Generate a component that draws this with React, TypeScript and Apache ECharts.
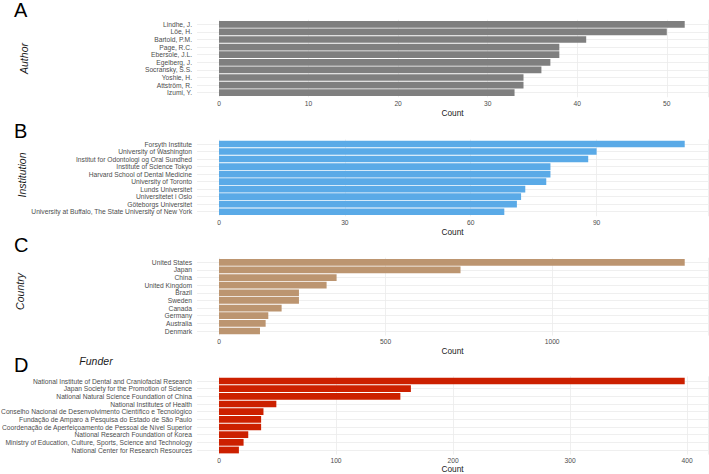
import React, { useEffect, useRef } from "react";
import * as echarts from "echarts";

const authors = ["Lindhe, J.", "Löe, H.", "Bartold, P.M.", "Page, R.C.", "Ebersole, J.L.", "Egelberg, J.", "Socransky, S.S.", "Yoshie, H.", "Attström, R.", "Izumi, Y."];
const authorCounts = [52, 50, 41, 38, 38, 37, 36, 34, 34, 33];

const institutions = ["Forsyth Institute", "University of Washington", "Institut for Odontologi og Oral Sundhed", "Institute of Science Tokyo", "Harvard School of Dental Medicine", "University of Toronto", "Lunds Universitet", "Universitetet i Oslo", "Göteborgs Universitet", "University at Buffalo, The State University of New York"];
const institutionCounts = [111, 90, 88, 79, 79, 78, 73, 72, 71, 68];

const countries = ["United States", "Japan", "China", "United Kingdom", "Brazil", "Sweden", "Canada", "Germany", "Australia", "Denmark"];
const countryCounts = [1398, 725, 353, 323, 240, 240, 188, 148, 140, 123];

const funders = ["National Institute of Dental and Craniofacial Research", "Japan Society for the Promotion of Science", "National Natural Science Foundation of China", "National Institutes of Health", "Conselho Nacional de Desenvolvimento Científico e Tecnológico", "Fundação de Amparo à Pesquisa do Estado de São Paulo", "Coordenação de Aperfeiçoamento de Pessoal de Nível Superior", "National Research Foundation of Korea", "Ministry of Education, Culture, Sports, Science and Technology", "National Center for Research Resources"];
const funderCounts = [398, 164, 155, 49, 38, 36, 36, 25, 21, 17];

const xIntervals = [10, 30, 500, 100];
const panelLetters = ["A", "B", "C", "D"];
const panelTitles = ["Author", "Institution", "Country", "Funder"];

const FONT = "'Liberation Sans', Arial, Helvetica, sans-serif";

export default function App() {
  const ref = useRef<HTMLDivElement>(null);
  useEffect(() => {
    if (!ref.current) return;
    const chart = echarts.init(ref.current, null, { renderer: "svg" });

    const panels = [
      { cats: authors, vals: authorCounts, color: "#7f7f7f", first: 24.3, last: 92.7 },
      { cats: institutions, vals: institutionCounts, color: "#5aaae7", first: 144, last: 211.7 },
      { cats: countries, vals: countryCounts, color: "#bc9570", first: 262.3, last: 331 },
      { cats: funders, vals: funderCounts, color: "#cc2000", first: 381, last: 450 },
    ];

    const grid: any[] = [];
    const xAxis: any[] = [];
    const yAxis: any[] = [];
    const series: any[] = [];

    panels.forEach((p, i) => {
      const maxV = Math.max(...p.vals) * 1.05;
      const band = (p.last - p.first) / (p.cats.length - 1);
      const left = 219;
      const right = 1;
      const iv = xIntervals[i];
      // helper grid: full panel, vertical grid lines
      grid.push({ left, right, top: p.first - 0.6 * band, height: p.last - p.first + 1.2 * band, outerBoundsMode: "none", containLabel: false });
      xAxis.push({
        type: "value", gridIndex: 2 * i, min: 0, max: maxV, interval: iv,
        axisLine: { show: false }, axisTick: { show: false }, axisLabel: { show: false },
        splitLine: { show: true, lineStyle: { color: "#ebebeb", width: 0.8 } },
      });
      yAxis.push({ type: "value", gridIndex: 2 * i, show: false, min: 0, max: 1, splitLine: { show: false } });
      // main grid
      grid.push({ left, right, top: p.first, height: p.last - p.first, outerBoundsMode: "none", containLabel: false });
      xAxis.push({
        type: "value", gridIndex: 2 * i + 1, min: 0, max: maxV, interval: iv,
        axisLine: { show: false }, axisTick: { show: false },
        splitLine: { show: false },
        axisLabel: {
          margin: 7, fontSize: 6.7, color: "#4d4d4d", fontFamily: FONT,
          formatter: (v: number) => (Math.abs(v / iv - Math.round(v / iv)) > 1e-6 ? "" : String(v)),
        },
        name: "Count", nameLocation: "middle", nameGap: i === 3 ? 15 : 16,
        nameTextStyle: { fontSize: 8.3, color: "#1a1a1a", fontFamily: FONT, padding: [0, 22, 0, 0] },
      });
      yAxis.push({
        type: "category", gridIndex: 2 * i + 1, data: p.cats, inverse: true, boundaryGap: false,
        axisLine: { show: false },
        axisTick: { show: true, length: 22, lineStyle: { color: "#ebebeb", width: 0.8 } },
        splitLine: { show: true, lineStyle: { color: "#ebebeb", width: 0.8 } },
        axisLabel: { margin: 27, fontSize: 6.7, color: "#4d4d4d", fontFamily: FONT, interval: 0 },
      });
      series.push({
        type: "bar", xAxisIndex: 2 * i + 1, yAxisIndex: 2 * i + 1, data: p.vals,
        barCategoryGap: "12%", itemStyle: { color: p.color }, silent: true,
      });
    });

    const letterPos = [
      [14, 10.3], [14, 130.8], [14, 245], [14, 364.8],
    ];
    const titlePos = [
      [23.5, 58.5, true], [21.5, 175, true], [20, 291.5, true], [96, 361, false],
    ];
    const graphic: any[] = [];
    panelLetters.forEach((l, i) => {
      graphic.push({
        type: "text", x: letterPos[i][0], y: letterPos[i][1],
        style: { text: l, fontSize: 20, fontFamily: FONT, fill: "#000", textAlign: "left", textVerticalAlign: "middle" },
      });
    });
    panelTitles.forEach((t, i) => {
      const [x, y, rot] = titlePos[i] as [number, number, boolean];
      graphic.push({
        type: "text", x, y, rotation: rot ? Math.PI / 2 : 0,
        style: { text: t, fontSize: 10.5, fontStyle: "italic", fontFamily: FONT, fill: "#1a1a1a", textAlign: "center", textVerticalAlign: "middle" },
      });
    });

    chart.setOption({
      animation: false,
      backgroundColor: "#ffffff",
      grid, xAxis, yAxis, series, graphic,
    });
    return () => chart.dispose();
  }, []);
  return <div ref={ref} style={{ position: "fixed", left: 0, top: 0, width: 709, height: 474 }} />;
}
